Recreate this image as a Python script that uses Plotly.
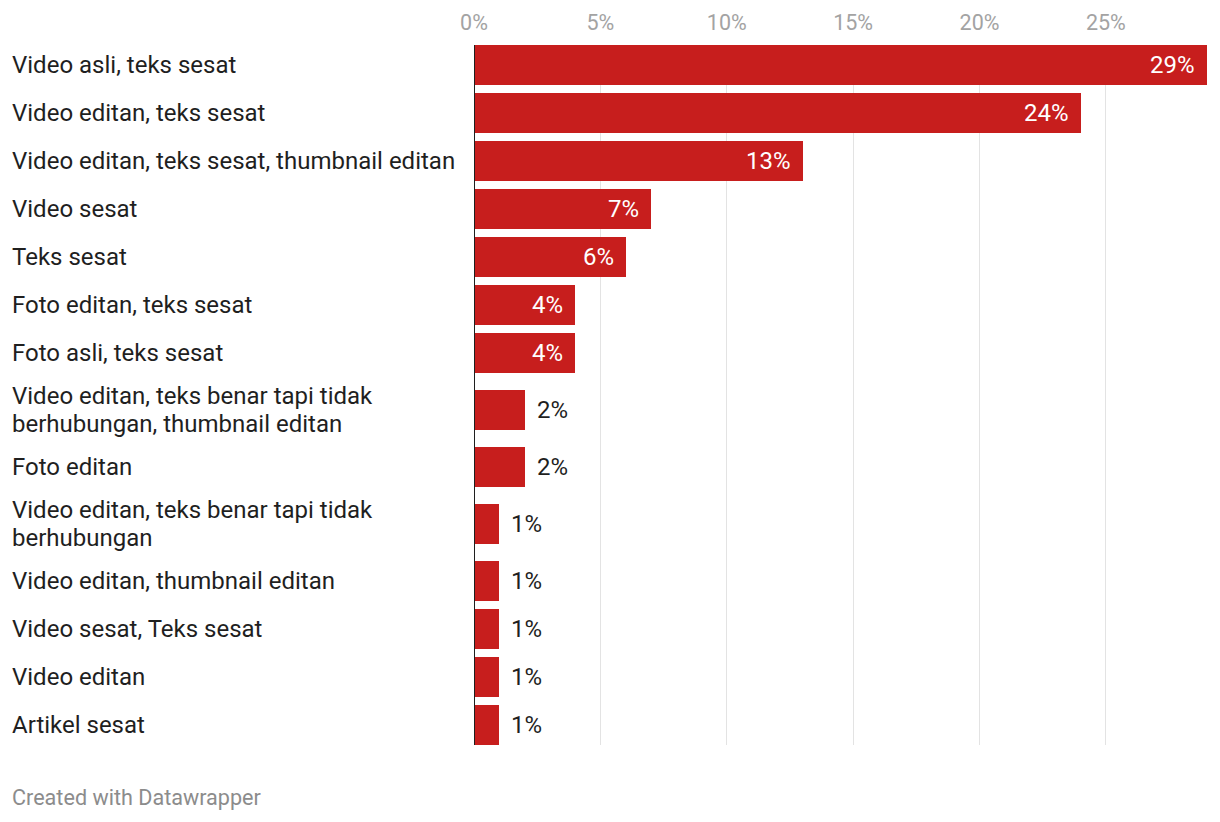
import plotly.graph_objects as go

categories = [
    "Video asli, teks sesat",
    "Video editan, teks sesat",
    "Video editan, teks sesat, thumbnail editan",
    "Video sesat",
    "Teks sesat",
    "Foto editan, teks sesat",
    "Foto asli, teks sesat",
    "Video editan, teks benar tapi tidak<br>berhubungan, thumbnail editan",
    "Foto editan",
    "Video editan, teks benar tapi tidak<br>berhubungan",
    "Video editan, thumbnail editan",
    "Video sesat, Teks sesat",
    "Video editan",
    "Artikel sesat",
]
values = [29, 24, 13, 7, 6, 4, 4, 2, 2, 1, 1, 1, 1, 1]
tick_vals = [0, 5, 10, 15, 20, 25]
tick_text = [f"{t}%" for t in tick_vals]

RED = "#c71e1d"
FONT = "Roboto"
TEXT = "#1f1f1f"

# row layout derived from number of label lines
SINGLE_ROW, DOUBLE_ROW, BAR_H, LINE_H = 48, 66, 40, 28
heights = [DOUBLE_ROW if "<br>" in c else SINGLE_ROW for c in categories]
positions = []
acc = 0
for h in heights:
    positions.append(acc + h / 2)
    acc += h
total = acc
pad = (SINGLE_ROW - BAR_H) / 2

# page body has an 8px margin; figure sized so it ends at the window edge
OFF = 8
W, H = 1220 - OFF, 822 - OFF
ml, mr, mt, mb = 474 - OFF, 13, 45 - OFF, 77
pw = W - ml - mr
ph = H - mt - mb
label_x = (10 - OFF - ml) / pw

fig = go.Figure(
    go.Bar(
        x=values,
        y=positions,
        orientation="h",
        width=BAR_H,
        marker=dict(color=RED, line=dict(width=0)),
        hoverinfo="skip",
    )
)

annotations = []
for c, v, p in zip(categories, values, positions):
    lines = c.split("<br>")
    n = len(lines)
    for i, line in enumerate(lines):
        annotations.append(dict(
            x=label_x, xref="paper", y=p, yref="y",
            yshift=-(i - (n - 1) / 2) * LINE_H,
            text=line, showarrow=False, xanchor="left", yanchor="middle", align="left",
            font=dict(family=FONT, size=24, color=TEXT),
        ))
    inside = v >= 3
    annotations.append(dict(
        x=v, xref="x", y=p, yref="y", text=f"{v}%", showarrow=False,
        xanchor="right" if inside else "left", yanchor="middle",
        xshift=-10 if inside else 10,
        font=dict(family=FONT, size=24, color="#ffffff" if inside else TEXT),
    ))

annotations.append(dict(
    x=label_x, xref="paper", y=-52.5 / ph, yref="paper",
    text="Created with Datawrapper", showarrow=False, xanchor="left", yanchor="middle",
    font=dict(family=FONT, size=21.6, color="#8c8c8c"),
))

fig.update_layout(
    width=W, height=H,
    margin=dict(l=ml, r=mr, t=mt, b=mb, pad=0, autoexpand=False),
    paper_bgcolor="white", plot_bgcolor="white",
    showlegend=False,
    bargap=0,
    annotations=annotations,
    shapes=[dict(type="line", xref="x", yref="paper", x0=0, x1=0, y0=0, y1=1,
                 line=dict(color=TEXT, width=2), layer="above")],
    xaxis=dict(
        side="top", range=[0, max(values)], tickmode="array",
        tickvals=tick_vals, ticktext=tick_text, automargin=False,
        showgrid=True, gridcolor="#e3e3e3", gridwidth=1, zeroline=False,
        ticks="outside", ticklen=5, tickcolor="rgba(0,0,0,0)",
        tickfont=dict(family=FONT, size=21.5, color="#a3a3a3"),
        showline=False, fixedrange=True,
    ),
    yaxis=dict(
        range=[total - pad, pad], showticklabels=False, showgrid=False,
        zeroline=False, showline=False, ticks="", fixedrange=True, automargin=False,
    ),
)

fig.write_html("out.html")
